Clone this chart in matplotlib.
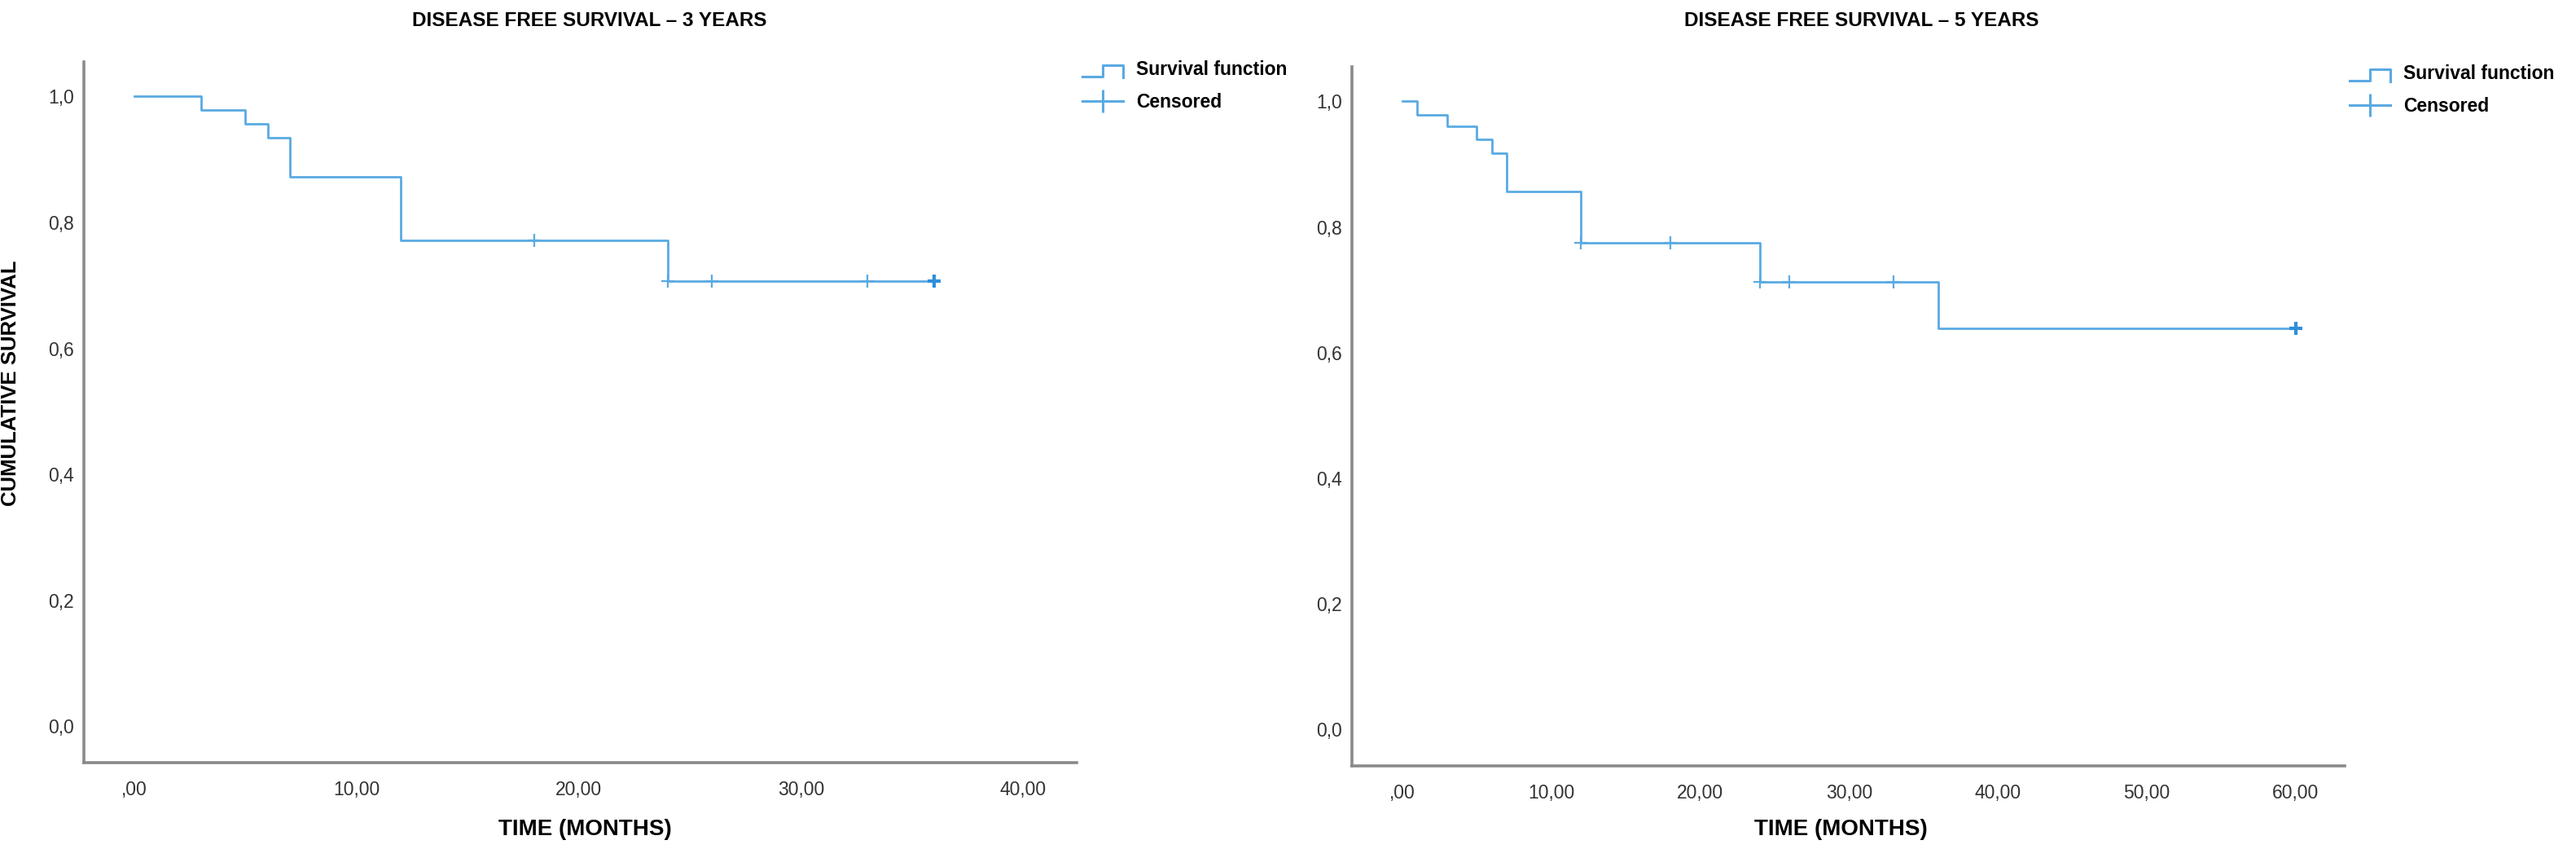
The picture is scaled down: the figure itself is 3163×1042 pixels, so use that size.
import numpy as np
import matplotlib
matplotlib.use("Agg")
import matplotlib.pyplot as plt
from matplotlib.lines import Line2D
from matplotlib.legend_handler import HandlerBase

# Kaplan-Meier (time of each step, survival after it)
time_3y = [0, 3, 5, 6, 7, 12, 24, 36]
surv_3y = [1.0, 0.978, 0.956, 0.935, 0.873, 0.772, 0.707, 0.707]
cens_3y = [18, 24, 26, 33, 36]

time_5y = [0, 1, 3, 5, 6, 7, 12, 24, 36, 60]
surv_5y = [1.0, 0.979, 0.960, 0.939, 0.918, 0.857, 0.775, 0.713, 0.638, 0.638]
cens_5y = [12, 18, 24, 26, 33, 60]

yticks = [0.0, 0.2, 0.4, 0.6, 0.8, 1.0]
ytick_labels = ['0,0', '0,2', '0,4', '0,6', '0,8', '1,0']
xticks_3y = [0, 10, 20, 30, 40]
xticks_5y = [0, 10, 20, 30, 40, 50, 60]

titles = ['DISEASE FREE SURVIVAL \u2013 3 YEARS', 'DISEASE FREE SURVIVAL \u2013 5 YEARS']
legend_labels = ['Survival function', 'Censored']

blue = '#5AAAE2'
grey = '#8a8a8a'
plt.rcParams['font.family'] = ['Liberation Sans', 'DejaVu Sans']
bold_font = ['Liberation Sans', 'DejaVu Sans']


def fmt_x(v):
    s = '%.2f' % v
    s = s.replace('.', ',')
    if s.startswith('0,'):
        s = s[1:]
    return s


def surv_at(times, surv, t):
    idx = np.searchsorted(times, t, side='right') - 1
    return surv[idx]


class StepIcon(HandlerBase):
    def create_artists(self, legend, orig_handle, xdescent, ydescent,
                       width, height, fontsize, trans):
        xs = np.array([0, 0.5, 0.5, 1, 1]) * width - xdescent
        ys = np.array([-0.15, -0.15, 0.75, 0.75, -0.2]) * height - ydescent
        ln = Line2D(xs, ys, color=blue, lw=2.2)
        ln.set_transform(trans)
        return [ln]


W, H = 3163, 1042
fig = plt.figure(figsize=(W / 100, H / 100), dpi=100)

panels = [
    dict(rect=[103, 76, 1322, 936], xlim=(-2.27, 42.4), xt=xticks_3y,
         t=time_3y, s=surv_3y, c=cens_3y, title_x=724, xlab_x=718,
         leg=(1329, 74)),
    dict(rect=[1660, 82, 2879, 940], xlim=(-3.39, 63.3), xt=xticks_5y,
         t=time_5y, s=surv_5y, c=cens_5y, title_x=2286, xlab_x=2260,
         leg=(2885, 79)),
]

for i, p in enumerate(panels):
    x0, y0, x1, y1 = p['rect']
    ax = fig.add_axes([x0 / W, 1 - y1 / H, (x1 - x0) / W, (y1 - y0) / H])
    ax.step(p['t'], p['s'], where='post', color=blue, lw=2.0)
    cy = [surv_at(p['t'], p['s'], c) for c in p['c']]
    ax.plot(p['c'][:-1], cy[:-1], ls='none', marker='+', ms=11, mew=1.6, color=blue)
    ax.plot(p['c'][-1:], cy[-1:], ls='none', marker='+', ms=11, mew=3.0, color='#2f8fd8')

    ax.set_xlim(*p['xlim'])
    ax.set_ylim(-0.058, 1.055)
    ax.set_yticks(yticks)
    ax.set_yticklabels(ytick_labels)
    ax.set_xticks(p['xt'])
    ax.set_xticklabels([fmt_x(v) for v in p['xt']])
    ax.tick_params(length=0, labelsize=16.5, labelcolor='#333333')
    ax.tick_params(axis='y', pad=9)
    ax.tick_params(axis='x', pad=16)
    for sp in ['top', 'right']:
        ax.spines[sp].set_visible(False)
    for sp in ['left', 'bottom']:
        ax.spines[sp].set_color(grey)
        ax.spines[sp].set_linewidth(2.6)

    fig.text(p['title_x'] / W, 1 - 25 / H, titles[i], ha='center', va='center',
             fontsize=17.5, fontweight='bold', family=bold_font)
    fig.text(p['xlab_x'] / W, 1 - 1018 / H, 'TIME (MONTHS)', ha='center', va='center',
             fontsize=20, fontweight='bold', family=bold_font)

    h1 = Line2D([], [], color=blue)
    h2 = Line2D([], [], color=blue, lw=2.2, marker='|', ms=20, mew=2.2)
    lx, ly = p['leg']
    fig.legend([h1, h2], legend_labels, handler_map={h1: StepIcon()},
               loc='upper left', bbox_to_anchor=(lx / W, 1 - ly / H),
               frameon=False, borderpad=0, borderaxespad=0,
               handlelength=2.2, handletextpad=0.7, labelspacing=0.75,
               prop=dict(family=bold_font, weight='bold', size=16.5))

fig.text(13 / W, 1 - 470 / H, 'CUMULATIVE SURVIVAL', rotation=90, ha='center',
         va='center', fontsize=18.5, fontweight='bold', family=bold_font)

fig.savefig('out.png', dpi=100, facecolor='white')
